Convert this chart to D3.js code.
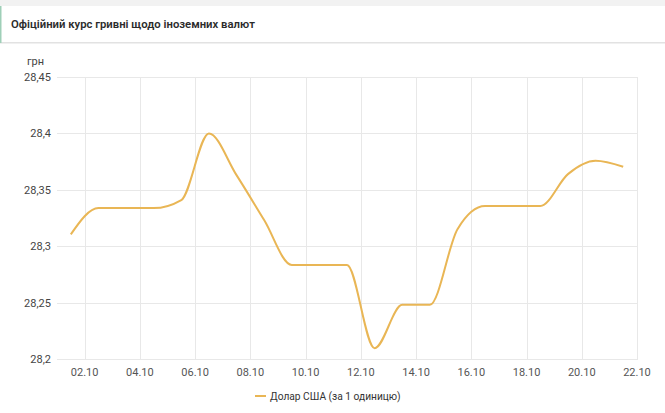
<!DOCTYPE html>
<html>
<head>
<meta charset="utf-8">
<script src="https://cdn.jsdelivr.net/npm/d3@7"></script>
<style>
  body { margin: 0; background: #fff; font-family: Roboto, "Noto Sans", sans-serif; }
  svg { display: block; }
</style>
</head>
<body>
<svg id="chart" width="665" height="413"></svg>
<script>
const title = 'Офіційний курс гривні щодо іноземних валют';
const unitLabel = 'грн';
const seriesName = 'Долар США (за 1 одиницю)';
const dates = ['2018-10-01','2018-10-02','2018-10-03','2018-10-04','2018-10-05','2018-10-06','2018-10-07',
  '2018-10-08','2018-10-09','2018-10-10','2018-10-11','2018-10-12','2018-10-13','2018-10-14',
  '2018-10-15','2018-10-16','2018-10-17','2018-10-18','2018-10-19','2018-10-20','2018-10-21'];
const usdRate = [28.3105,28.3338,28.3338,28.3338,28.3409,28.3999,28.3630,
  28.3232,28.2834,28.2834,28.2834,28.2096,28.2480,28.2480,
  28.3150,28.3356,28.3356,28.3356,28.3639,28.3757,28.3704];
const yTicks = [28.2,28.25,28.3,28.35,28.4,28.45];

const svg = d3.select('#chart');
const width = +svg.attr('width'), height = +svg.attr('height');
const marge = {left:57, top:77, right:28, bottom:54};

// header card
svg.append('rect').attr('x',0).attr('y',0).attr('width',width).attr('height',6).attr('fill','#f2f2f2');
svg.append('rect').attr('x',0).attr('y',6).attr('width',width).attr('height',36).attr('fill','#fff');
svg.append('rect').attr('x',0).attr('y',42).attr('width',width).attr('height',1.5).attr('fill','#e2e2e2');
svg.append('rect').attr('x',0).attr('y',6).attr('width',1.5).attr('height',37).attr('fill','#9fcfb8');
svg.append('text').attr('x',11).attr('y',28)
  .attr('font-size',11.3).attr('font-weight',600).attr('fill','#2b2b2b')
  .text(title);

const parse = d3.utcParse('%Y-%m-%d');
const data = dates.map((d,i) => ({date: d3.utcHour.offset(parse(d),12), value: usdRate[i]}));

const x = d3.scaleUtc()
  .domain([parse('2018-10-01'), parse('2018-10-22')])
  .range([marge.left, width - marge.right]);
const y = d3.scaleLinear()
  .domain([28.2, 28.45])
  .range([height - marge.bottom, marge.top]);

const xTicks = d3.utcDay.range(parse('2018-10-02'), d3.utcDay.offset(parse('2018-10-22'),1), 2);
const fmtX = d3.utcFormat('%d.%m');
const fmtY = v => String(+v.toFixed(2)).replace('.', ',');

// gridlines
const grid = svg.append('g').attr('stroke','#e8e8e8').attr('stroke-width',1);
grid.selectAll('.hg').data(yTicks).enter().append('line')
  .attr('x1',marge.left).attr('x2',width - marge.right + 1)
  .attr('y1',d => Math.round(y(d))+0.5).attr('y2',d => Math.round(y(d))+0.5);
grid.selectAll('.vg').data(xTicks).enter().append('line')
  .attr('x1',d => Math.round(x(d))+0.5).attr('x2',d => Math.round(x(d))+0.5)
  .attr('y1',marge.top).attr('y2',height - marge.bottom);

// axes labels
svg.append('g').selectAll('text').data(yTicks).enter().append('text')
  .attr('x',51).attr('y',d => y(d)+4)
  .attr('text-anchor','end').attr('font-size',11).attr('fill','#444')
  .text(fmtY);
svg.append('text').attr('x',27).attr('y',65).attr('font-size',11).attr('fill','#444').text(unitLabel);
svg.append('g').selectAll('text').data(xTicks).enter().append('text')
  .attr('x',d => x(d)).attr('y',height - marge.bottom + 17)
  .attr('text-anchor','middle').attr('font-size',11).attr('fill','#555')
  .text(fmtX);

// line
const line = d3.line()
  .x(d => x(d.date))
  .y(d => y(d.value))
  .curve(d3.curveMonotoneX);
svg.append('path').datum(data)
  .attr('d',line)
  .attr('fill','none').attr('stroke','#e9b655').attr('stroke-width',2)
  .attr('stroke-linejoin','round');

// legend
const lg = svg.append('g').attr('transform','translate(255,396)');
lg.append('line').attr('x1',0).attr('x2',11).attr('y1',0).attr('y2',0)
  .attr('stroke','#e9b655').attr('stroke-width',2);
lg.append('text').attr('x',15).attr('y',3.5).attr('font-size',10.2).attr('fill','#333').text(seriesName);
</script>
</body>
</html>
